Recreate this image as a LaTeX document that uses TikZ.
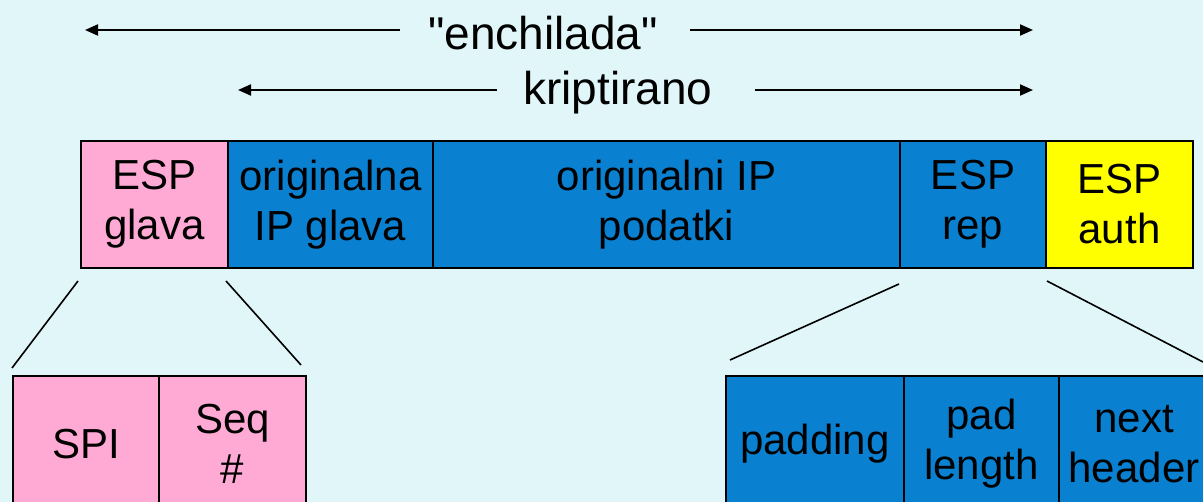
\documentclass[tikz,border=0pt]{standalone}
\usepackage{fontspec}
\setmainfont{Liberation Sans}[Ligatures=TeXOff]
\usetikzlibrary{arrows.meta}
\definecolor{bgc}{RGB}{224,246,249}
\definecolor{pinkc}{RGB}{255,170,212}
\definecolor{bluec}{RGB}{10,128,208}
\definecolor{yelc}{RGB}{255,255,0}
\begin{document}
\begin{tikzpicture}[x=1pt,y=-1pt,
  cell/.style={draw=black,line width=2pt,inner sep=0pt,align=center,
    font=\fontsize{42}{50}\selectfont,anchor=north west},
  pinkcell/.style={cell,fill=pinkc},
  bluecell/.style={cell,fill=bluec},
  yelcell/.style={cell,fill=yelc},
  lbl/.style={inner sep=0pt,font=\fontsize{46}{50}\selectfont},
  arr/.style={line width=2pt,-{Triangle[length=13pt,width=11pt]}},
  link/.style={line width=1.6pt}]
\useasboundingbox (0,0) rectangle (1203,502);
\fill[bgc] (0,0) rectangle (1203,502);
% top row
\node[pinkcell,minimum width=147pt,minimum height=127pt] (espglava) at (80,140) {ESP\\glava};
\node[bluecell,minimum width=205pt,minimum height=127pt] (origglava) at (227,140) {originalna\\IP glava};
\node[bluecell,minimum width=467pt,minimum height=127pt] (origpod) at (432,140) {originalni IP\\podatki};
\node[bluecell,minimum width=146pt,minimum height=127pt] (esprep) at (899,140) {ESP\\rep};
\node[yelcell,minimum width=147pt,minimum height=127pt] (espauth) at (1045,140) {ESP\\auth};
% bottom left
\node[pinkcell,minimum width=146pt,minimum height=136pt] (spi) at (12,375) {SPI};
\node[pinkcell,minimum width=147pt,minimum height=136pt,text depth=0pt] (seq) at (158,375) {Seq\\\#};
% bottom right
\node[bluecell,minimum width=178pt,minimum height=136pt] (padding) at (725,375) {padding};
\node[bluecell,minimum width=155pt,minimum height=136pt] (padlen) at (903,375) {pad\\length};
\node[bluecell,minimum width=150pt,minimum height=136pt] (nexth) at (1058,375) {next\\header};
% expansion lines
\draw[link] ([shift={(-2,12)}]espglava.south west) -- ([shift={(0,-7)}]spi.north west);
\draw[link] ([shift={(-3,12)}]espglava.south east) -- ([shift={(-6,-10)}]seq.north east);
\draw[link] ([shift={(0,15)}]esprep.south west) -- ([shift={(5,-15)}]padding.north west);
\draw[link] ([shift={(0,12)}]esprep.south east) -- (1203,362) coordinate (nhc);
% labels and arrows
\node[lbl] (ench) at (543,33) {"enchilada"};
\node[lbl] (kript) at (618,93) {kriptirano};
\coordinate (enchL) at (85,30);
\coordinate (enchR) at (1033,30);
\coordinate (kriL) at (238,90);
\coordinate (kriR) at (1033,90);
\draw[arr] (400,30) coordinate (e1) -- (enchL);
\draw[arr] (690,30) coordinate (e2) -- (enchR);
\draw[arr] (497,90) coordinate (k1) -- (kriL);
\draw[arr] (755,90) coordinate (k2) -- (kriR);
\end{tikzpicture}
\end{document}
